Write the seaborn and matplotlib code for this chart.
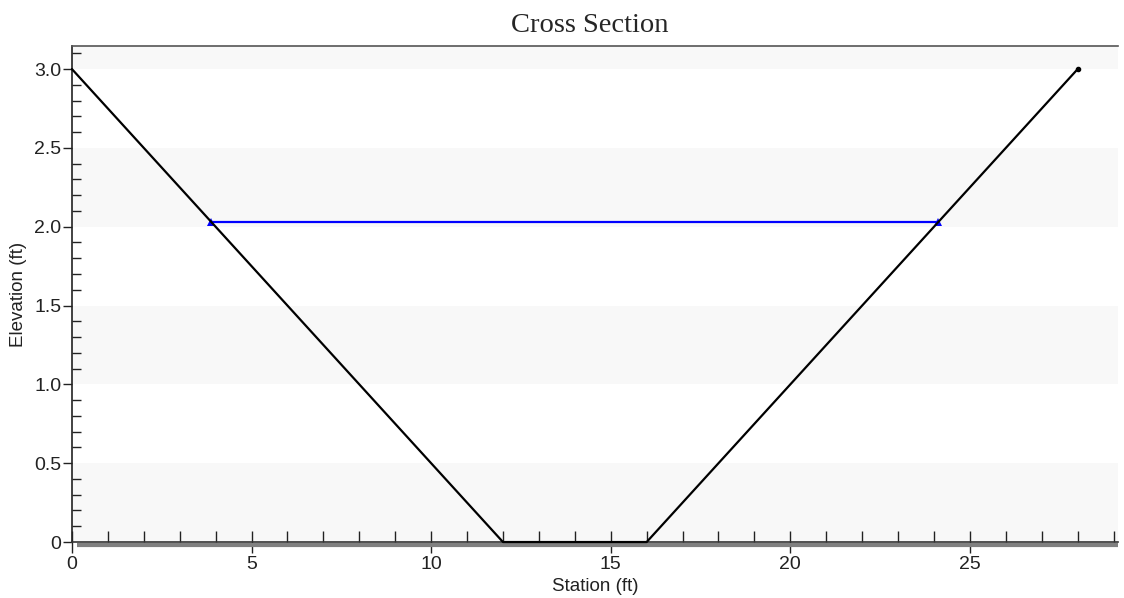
import numpy as np
import pandas as pd
import matplotlib
matplotlib.use("Agg")
import matplotlib.pyplot as plt
import matplotlib.transforms as mtransforms
from matplotlib.ticker import MultipleLocator
import seaborn as sns

# 断面数据
station = [0, 12, 16, 28]
elevation = [3.0, 0.0, 0.0, 3.0]

# 水面线
ws_station = [3.88, 24.12]
ws_elev = [2.03, 2.03]

x_ticks = [0, 5, 10, 15, 20, 25]
y_ticks = [0, 0.5, 1.0, 1.5, 2.0, 2.5, 3.0]
y_tick_labels = ["0", "0.5", "1.0", "1.5", "2.0", "2.5", "3.0"]

sns.set_style("white")
plt.rcParams['font.family'] = ['Liberation Sans', 'DejaVu Sans']

fig = plt.figure(figsize=(11.24, 5.98), dpi=100)
ax = fig.add_axes([0.064, 0.0936, 0.9306, 0.8294])

# 交替的浅灰色背景带
for lo in [0.0, 1.0, 2.0, 3.0]:
    ax.axhspan(lo, lo + 0.5, color='#f8f8f8', zorder=0, lw=0)

ground = pd.DataFrame({'station': station, 'elevation': elevation})
ws = pd.DataFrame({'station': ws_station, 'elevation': ws_elev})

sns.lineplot(data=ws, x='station', y='elevation', color='#0000ff', lw=1.6,
             marker='^', markersize=6, markeredgewidth=0, sort=False, ax=ax, zorder=3)
sns.lineplot(data=ground, x='station', y='elevation', color='black', lw=1.6,
             sort=False, ax=ax, zorder=4, clip_on=False)
ax.plot(station[-1:], elevation[-1:], 'o', color='black', ms=3, zorder=5)

ax.set_xlim(0, 29.12)
ax.set_ylim(0, 3.146)

ax.set_xticks(x_ticks)
ax.set_xticklabels([str(t) for t in x_ticks])
ax.set_yticks(y_ticks)
ax.set_yticklabels(y_tick_labels)
ax.xaxis.set_minor_locator(MultipleLocator(1))
ax.yaxis.set_minor_locator(MultipleLocator(0.1))

ax.tick_params(which='both', bottom=True, left=True, top=False, right=False)
ax.tick_params(axis='x', which='major', direction='inout', length=16, width=1,
               color='#222222', labelsize=14, pad=2, labelcolor='#222222')
ax.tick_params(axis='x', which='minor', direction='in', length=8, width=1, color='#222222')
ax.tick_params(axis='y', which='major', direction='out', length=6.5, width=1,
               color='#222222', labelsize=14, pad=1, labelcolor='#222222')
ax.tick_params(axis='y', which='minor', direction='in', length=6.5, width=1, color='#222222')

for side in ['left', 'top', 'bottom']:
    ax.spines[side].set_visible(True)
    ax.spines[side].set_linewidth(1.2)
ax.spines['left'].set_color('#222222')
ax.spines['top'].set_color('#555555')
ax.spines['bottom'].set_color('#333333')
ax.spines['right'].set_visible(False)

# 底部灰色阴影线
shadow = mtransforms.offset_copy(ax.transAxes, fig=fig, x=0, y=-2.2, units='points')
ax.plot([0.005, 1.0], [0, 0], color='#808080', lw=3, transform=shadow, clip_on=False, zorder=1,
        solid_capstyle='butt')

ax.set_xlabel('Station (ft)', fontsize=13.5, labelpad=4, color='#222222')
ax.set_ylabel('Elevation (ft)', fontsize=13.5, labelpad=5, color='#222222')
ax.set_title('Cross Section', fontsize=20.5, family=['Liberation Serif', 'DejaVu Serif'], pad=10,
             x=0.495)

fig.savefig('out.png', dpi=100)
